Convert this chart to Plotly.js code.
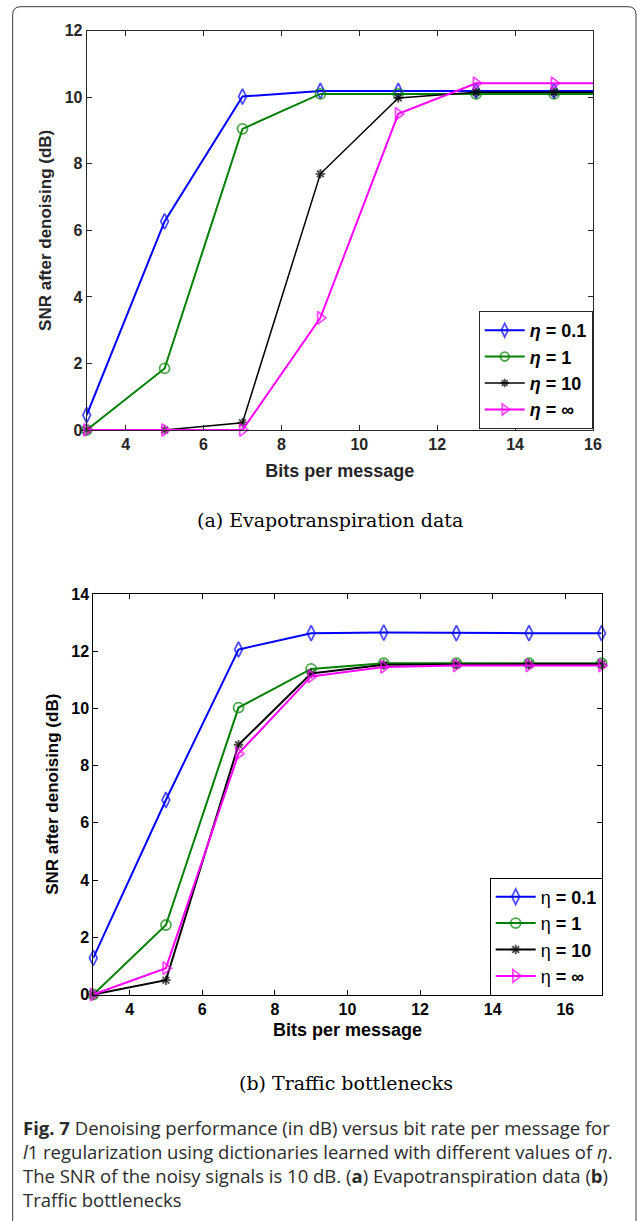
<!DOCTYPE html>
<html>
<head>
<meta charset="utf-8">
<script src="https://cdn.plot.ly/plotly-3.0.1.min.js"></script>
<style>
  html, body { margin: 0; padding: 0; background: #ffffff; }
  #chart { width: 637px; height: 1221px; }
</style>
</head>
<body>
<div id="chart"></div>
<script>
// ---------------- DATA ----------------
const bits = [3, 5, 7, 9, 11, 13, 15, 17];
const seriesNames = ['0.1', '1', '10', '∞'];

// (a) Evapotranspiration data
const evapEta01  = [0.45, 6.27, 10.02, 10.19, 10.19, 10.19, 10.19, 10.19];
const evapEta1   = [0.00, 1.85, 9.05, 10.10, 10.10, 10.10, 10.10, 10.10];
const evapEta10  = [0.00, 0.00, 0.22, 7.70, 9.98, 10.15, 10.15, 10.15];
const evapEtaInf = [0.00, 0.00, 0.00, 3.37, 9.50, 10.42, 10.42, 10.42];

// (b) Traffic bottlenecks
const trafEta01  = [1.28, 6.80, 12.06, 12.63, 12.65, 12.63, 12.63, 12.63];
const trafEta1   = [0.00, 2.43, 10.03, 11.38, 11.58, 11.58, 11.58, 11.58];
const trafEta10  = [0.00, 0.50, 8.73, 11.22, 11.53, 11.55, 11.55, 11.55];
const trafEtaInf = [0.00, 0.92, 8.42, 11.12, 11.45, 11.50, 11.50, 11.50];

const xRangeA = [3, 16], yRangeA = [0, 12];
const xRangeB = [3, 17], yRangeB = [0, 14];

const xTitle = 'Bits per message';
const yTitle = 'SNR after denoising (dB)';
const captionA = '(a) Evapotranspiration data';
const captionB = '(b) Traffic bottlenecks';
const figCaption = [
  '<b>Fig. 7</b> Denoising performance (in dB) versus bit rate per message for',
  '<i>l</i>1 regularization using dictionaries learned with different values of <i>η</i>.',
  'The SNR of the noisy signals is 10 dB. (<b>a</b>) Evapotranspiration data (<b>b</b>)',
  'Traffic bottlenecks'
];

// ---------------- STYLE ----------------
const W = 637, H = 1221;
const px = v => v / W;
const py = v => 1 - v / H;

const colors  = ['#0000ff', '#008000', '#000000', '#ff00ff'];
const symbols = ['diamond-tall-open', 'circle-open', 'asterisk-open', 'triangle-right-open'];
const msizes  = [11, 10, 8, 11];

function makeTraces(ys, xa, ya, legend, labelFn, lw, xr) {
  return ys.map((y, i) => ({
    type: 'scatter', mode: 'lines+markers',
    x: bits, y: y, xaxis: xa, yaxis: ya, legend: legend,
    name: labelFn(seriesNames[i]),
    cliponaxis: false,
    line: { color: colors[i], width: lw[i] },
    marker: { symbol: symbols[i],
              // markers of points lying outside the axis range are not shown (like MATLAB clipping)
              size: bits.map(b => (b > xr[1] ? 0 : msizes[i])),
              color: colors[i],
              line: { color: colors[i], width: 1.8 } }
  }));
}

const tracesA = makeTraces([evapEta01, evapEta1, evapEta10, evapEtaInf], 'x', 'y', 'legend',
  s => '<i>η</i> = ' + s, [2, 2, 1.5, 2], xRangeA);
const tracesB = makeTraces([trafEta01, trafEta1, trafEta10, trafEtaInf], 'x2', 'y2', 'legend2',
  s => '<span style="font-weight:normal">η</span> = ' + s, [2, 2, 2, 2], xRangeB);

const fontFam = 'Liberation Sans, Arial, sans-serif';

function axisCommon(col) {
  return {
    showline: true, linecolor: col, linewidth: 1, mirror: 'ticks',
    ticks: 'inside', ticklen: 5, tickwidth: 1, tickcolor: col,
    showgrid: false, zeroline: false, fixedrange: true,
    tickfont: { family: fontFam, size: 16, color: col, weight: 'bold' }
  };
}

const colA = '#262626', colB = '#000000';

function legendStyle(x, y, col) {
  return {
    x: px(x), xanchor: 'right', y: py(y), yanchor: 'bottom',
    bgcolor: '#ffffff', bordercolor: col, borderwidth: 1,
    font: { family: fontFam, size: 18, color: '#000000', weight: 'bold' },
    itemwidth: 40, tracegroupgap: 0, itemclick: false, itemdoubleclick: false
  };
}

const layout = {
  width: W, height: H,
  margin: { l: 0, r: 0, t: 0, b: 0 },
  paper_bgcolor: '#ffffff', plot_bgcolor: '#ffffff',
  showlegend: true,
  xaxis: Object.assign(axisCommon(colA), {
    domain: [px(86.7), px(593)], range: xRangeA, anchor: 'y',
    tickmode: 'linear', tick0: 4, dtick: 2,
    title: { text: xTitle, standoff: 12, font: { family: fontFam, size: 18, color: colA, weight: 'bold' } }
  }),
  yaxis: Object.assign(axisCommon(colA), {
    domain: [py(430), py(30.7)], range: yRangeA, anchor: 'x',
    tickmode: 'linear', tick0: 0, dtick: 2,
    title: { text: yTitle, standoff: 8, font: { family: fontFam, size: 17, color: colA, weight: 'bold' } }
  }),
  xaxis2: Object.assign(axisCommon(colB), {
    domain: [px(93.3), px(601.6)], range: xRangeB, anchor: 'y2',
    tickmode: 'linear', tick0: 4, dtick: 2,
    title: { text: xTitle, standoff: 6, font: { family: fontFam, size: 18, color: colB, weight: 'bold' } }
  }),
  yaxis2: Object.assign(axisCommon(colB), {
    domain: [py(994.5), py(594)], range: yRangeB, anchor: 'x2',
    tickmode: 'linear', tick0: 0, dtick: 2,
    title: { text: yTitle, standoff: 8, font: { family: fontFam, size: 17, color: colB, weight: 'bold' } }
  }),
  legend: legendStyle(592.7, 429, colA),
  legend2: legendStyle(602.7, 995.5, colB),
  shapes: [(() => {
    const x0 = 12.7, y0 = 6.7, x1 = 636, yb = 1240, r = 8;
    const p = `M${px(x0)},${py(yb)} L${px(x0)},${py(y0 + r)} Q${px(x0)},${py(y0)} ${px(x0 + r)},${py(y0)} ` +
              `L${px(x1 - r)},${py(y0)} Q${px(x1)},${py(y0)} ${px(x1)},${py(y0 + r)} L${px(x1)},${py(yb)}`;
    return { type: 'path', xref: 'paper', yref: 'paper', path: p,
             line: { color: '#3a3a3a', width: 1 }, layer: 'below' };
  })()],
  annotations: [
    { text: captionA, xref: 'paper', yref: 'paper', x: px(330), y: py(520),
      xanchor: 'center', yanchor: 'middle', showarrow: false,
      font: { family: 'DejaVu Serif, serif', size: 19, color: '#000000' } },
    { text: captionB, xref: 'paper', yref: 'paper', x: px(346.5), y: py(1083),
      xanchor: 'center', yanchor: 'middle', showarrow: false,
      font: { family: 'DejaVu Serif, serif', size: 19, color: '#000000' } }
  ].concat(figCaption.map((t, i) => ({
      text: t, xref: 'paper', yref: 'paper', x: px(21), y: py(1127 + i * 24),
      xanchor: 'left', yanchor: 'middle', showarrow: false,
      font: { family: 'Open Sans, sans-serif', size: 18.5, color: '#2b2b2b' }
  })))
};

Plotly.newPlot('chart', tracesA.concat(tracesB), layout, { displayModeBar: false, staticPlot: true });
</script>
</body>
</html>
